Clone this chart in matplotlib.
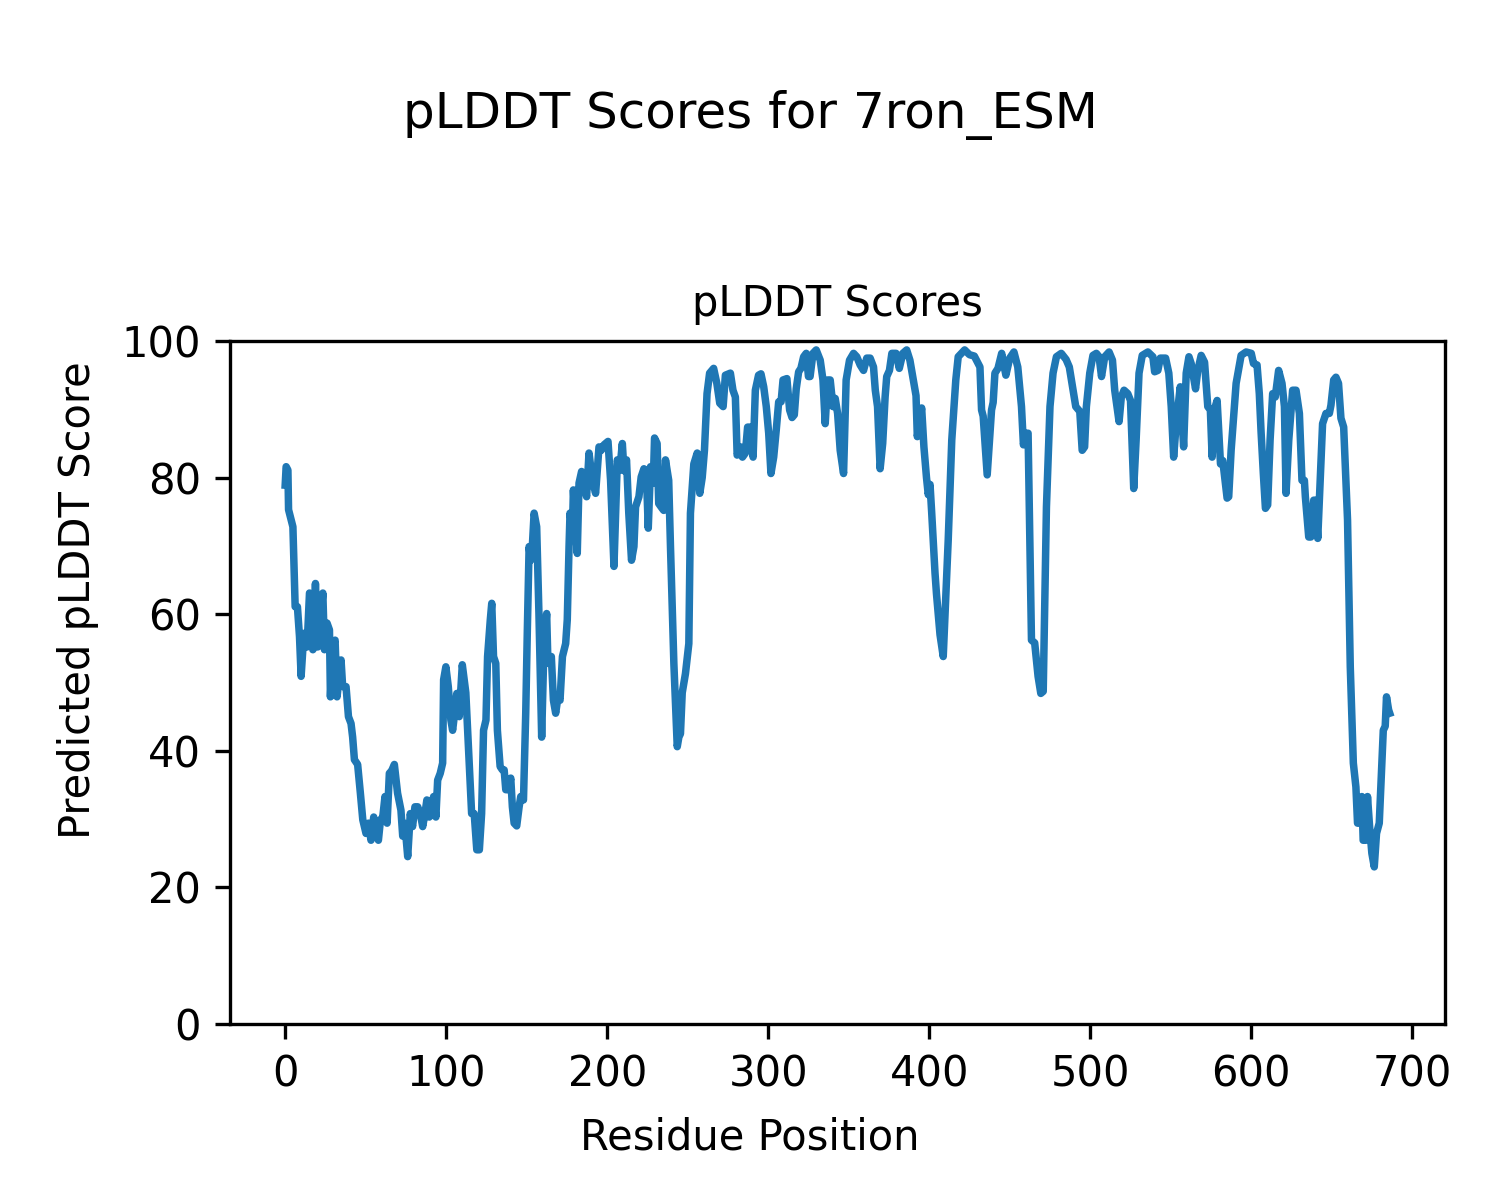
import matplotlib
matplotlib.use("Agg")
import matplotlib.pyplot as plt


# residue positions and pLDDT scores
residue = [
    0, 0.6, 1.7, 2.1, 4.8, 6.2, 7.6, 8.9, 9.9, 11.6, 13.6, 15.1, 16.1, 17.2, 18.8,
    20.2, 21.7, 23.4, 24.4, 26, 27.5, 28.1, 29.5, 31, 32.2, 34.7, 35.7, 37.8, 39.3,
    40.9, 41.9, 43, 45, 46.7, 48.2, 50.2, 51.7, 53.3, 55, 56.4, 57.9, 59.2, 60.6,
    62, 63.3, 64.7, 66.2, 67.8, 69.8, 71.9, 73, 74, 75, 76.1, 77.7, 79.1, 80.6,
    82.3, 83.9, 85.4, 86.8, 88, 89.5, 90.9, 92.2, 93.6, 94.7, 96.3, 97.8, 98.4,
    99.8, 101.3, 102.9, 104, 105, 106.6, 108.1, 110, 112.2, 114.3, 115.8, 117.4,
    119, 120.6, 122, 123.2, 124.7, 125.7, 127.4, 128.3, 129.4, 130.8, 131.8,
    133.5, 134.9, 136, 137, 138.7, 140.1, 141.1, 142.2, 143.8, 145.3, 146.3, 148,
    149.4, 150.4, 151.5, 152.5, 153.6, 154.6, 156.2, 157.6, 159.3, 160.7, 162.4,
    163.2, 165.3, 166.6, 168, 169.5, 170.7, 172.2, 174.2, 175.2, 176.3, 176.9,
    178.4, 179, 180.4, 181.4, 182.5, 184.1, 185.5, 187.2, 188.7, 190.8, 192.8,
    194.9, 196.3, 198, 200.5, 202.1, 204.2, 206.3, 207.8, 209.4, 210.4, 212,
    213.4, 215.1, 216.6, 217.6, 219.7, 221.1, 222.8, 224.4, 225.5, 226.9, 228.6,
    229.4, 231, 232, 233.5, 235.1, 236.2, 238.2, 239.3, 241.4, 243.5, 244.5,
    245.5, 246.6, 248.6, 250.7, 251.7, 253.8, 255.9, 257.5, 259, 260.4, 262,
    263.6, 266.1, 268.1, 269.9, 272, 273.4, 276.5, 278.1, 279.6, 280.7, 282.8,
    284, 285.8, 287.2, 288.9, 290.6, 292, 294, 295.5, 297.2, 298.8, 300.3, 301.7,
    303.4, 305, 306.5, 308, 309.2, 311.6, 313.3, 314.8, 316.2, 317.4, 318.9,
    320.3, 322, 323.6, 325, 326, 327.8, 329.8, 332.3, 334, 335.4, 336.9, 338.5,
    340.2, 341.6, 343.1, 344.7, 346.8, 348.4, 350.5, 353, 355, 357.1, 359.2,
    361.2, 363.3, 365.4, 366.5, 367.9, 369.5, 371.1, 372.6, 373.6, 375.3, 376.8,
    379.4, 381.4, 383.6, 386, 388, 390.1, 391.8, 392.6, 395.3, 396.7, 398.3,
    399.4, 400.5, 401.5, 403.6, 404.5, 406.7, 408.7, 411.8, 414, 416.5, 418, 422,
    425, 428, 431.5, 432.5, 433.5, 436, 438.7, 439.7, 440.8, 442.7, 445, 447.6,
    450, 452.6, 455, 457.3, 458.5, 460, 461.4, 463.5, 465.5, 467.6, 469.3, 470.8,
    472.8, 475, 476.9, 479, 482, 485, 487, 489, 491, 493.5, 495, 496.5, 497.6,
    499.7, 501.7, 503.8, 505.5, 507, 509, 511.7, 513.8, 515.2, 517.9, 519.3, 521,
    523.3, 525, 527, 528.5, 530.3, 532.3, 535.8, 538.9, 540, 542, 543.5, 546.8,
    548.8, 550.3, 551.8, 553.4, 555.9, 558, 559.6, 561.3, 562.7, 565.4, 566.8,
    568.9, 571, 573, 574.6, 575.7, 577, 578.8, 580.9, 582.3, 585, 586, 587.5,
    590.6, 593.7, 596.8, 600, 601.4, 603.6, 605, 606.1, 607.5, 608.8, 610.2,
    611.7, 613.3, 614.9, 617, 619.1, 620.6, 621.6, 623.3, 625.7, 627.8, 629.9,
    631.5, 633, 633.6, 635.7, 637, 638.8, 639.9, 641.3, 644.3, 646.4, 648.5,
    649.5, 651.2, 652.6, 654.2, 655.7, 657.4, 659.8, 661.5, 663.4, 665, 666,
    667.5, 668.7, 669.5, 671.2, 672.2, 673.5, 674.9, 676.4, 677.8, 679.5, 680.5,
    682, 683.2, 684, 685.3, 686,
]
plddt = [
    78.9, 81.6, 81.1, 75.3, 72.8, 61.1, 61.1, 56.7, 50.9, 57.2, 55.2, 63.1, 62.6,
    54.8, 64.5, 55.2, 58.7, 63.1, 54.8, 58.7, 57.7, 47.9, 55.2, 56.2, 47.9, 53.3,
    49.4, 49.4, 45, 44, 42, 38.7, 38, 33.8, 29.9, 27.9, 29.4, 26.9, 30.3, 27.9,
    26.9, 29.9, 30.3, 33.3, 29.4, 36.7, 37.1, 38, 33.8, 31.3, 27.5, 29.4, 27.5,
    24.5, 30.8, 28.9, 31.8, 31.8, 30.8, 28.9, 30.8, 32.8, 30.3, 31.8, 33.3, 30.3,
    35.7, 36.7, 38.2, 50.4, 52.3, 49.4, 44.5, 43, 45, 48.4, 45, 52.6, 48.5, 38.2,
    30.8, 30.8, 25.5, 25.5, 30.8, 43, 44.5, 53.8, 59.2, 61.6, 53.8, 52.8, 43, 37.7,
    37.2, 37.2, 34.3, 34.3, 36, 31.8, 29.4, 29, 31.8, 33.3, 32.8, 45.5, 57.7, 69.9,
    67.9, 70.4, 74.8, 72.8, 60.1, 42, 55.2, 60.1, 52.8, 53.8, 47.4, 45.5, 48, 47.4,
    53.8, 55.7, 59.2, 69.9, 74.8, 72.3, 78.2, 72.3, 68.9, 79.2, 80.9, 79.6, 77.2,
    83.6, 79.6, 77.7, 84.5, 84, 84.8, 85.3, 79.6, 67, 82.6, 81.1, 85, 81, 82.6,
    74.8, 67.9, 69.9, 75.7, 77.2, 80.1, 81.3, 80.1, 72.6, 81.6, 79.2, 85.8, 85,
    76.2, 75.7, 75.2, 82.6, 79.6, 69.9, 52.8, 40.6, 42, 42.5, 48.5, 51.3, 55.7,
    74.8, 82, 83.6, 77.7, 80, 84, 92.3, 95.3, 96, 93.8, 90.9, 90.4, 95, 95.3, 92.8,
    91.8, 83.3, 84.5, 83, 83.6, 87.4, 87.4, 83, 92.8, 95, 95.2, 93.3, 90.4, 86.5,
    80.6, 83, 87, 91.1, 91.1, 94.3, 94.5, 89.9, 88.8, 89.2, 93, 95.5, 96, 97.7,
    98.2, 94.8, 94.8, 98.2, 98.7, 97.2, 94.3, 87.9, 94.3, 94.3, 90.4, 91.6, 89.4,
    84, 80.6, 94.3, 97.2, 98.2, 97.7, 96.5, 95.7, 97.5, 97.5, 96.2, 92.8, 90.4,
    81.3, 85, 91.8, 94.8, 95.7, 98.2, 98.2, 96, 98.2, 98.7, 97.2, 94.3, 92, 86,
    90.2, 84.5, 80, 77.5, 79, 75, 66, 63, 57, 53.8, 70.9, 85.5, 94.3, 97.7, 98.7,
    98, 97.8, 96.2, 89.9, 89, 80.4, 89.9, 91, 95.3, 96, 98.2, 95, 97.5, 98.4, 96.2,
    90.4, 84.8, 86.5, 86.5, 56.2, 55.8, 50.9, 48.4, 48.7, 75.7, 90.4, 95.3, 97.7,
    98.2, 97.3, 96.2, 93.3, 90.4, 89.7, 84, 84.5, 90.4, 95.3, 97.9, 98.2, 97.7,
    94.8, 97.7, 98.4, 97.2, 92.8, 88.2, 91.8, 92.8, 92.3, 91.3, 78.4, 85.5, 95.3,
    97.9, 98.4, 97.7, 95.5, 95.7, 97.5, 97.5, 95.3, 90.4, 83, 87.9, 93.3, 84.5,
    95.3, 97.7, 96.7, 93, 95.7, 97.9, 96.9, 90.4, 89.9, 83, 89.9, 91.3, 82, 82.5,
    77, 77.2, 84, 93.8, 97.9, 98.4, 98.2, 96.7, 96.5, 92.3, 86.7, 80.6, 75.5, 76,
    85.5, 92.3, 91.8, 95.7, 93.8, 90.4, 77.7, 85.5, 92.8, 92.8, 89.4, 79.6, 79.6,
    77.2, 71.3, 71.3, 76.7, 76.7, 71.1, 87.9, 89.4, 89.4, 90.6, 94.3, 94.7, 93.8,
    88.7, 87.4, 73.8, 52.3, 38.2, 34.7, 29.4, 29.4, 33.3, 26.9, 26.9, 33.3, 28.9,
    25, 23, 27.9, 29.4, 34.7, 43, 43.6, 47.9, 46, 45.5,
]


fig = plt.figure(figsize=(5, 4), dpi=300)
ax = fig.add_axes([0.1533, 0.1467, 0.81, 0.5691])
ax.plot(residue, plddt, color="#1f77b4", linewidth=1.8)
ax.set_ylim(0, 100)
ax.set_title("pLDDT Scores", fontsize=10)
ax.tick_params(labelsize=10)
fig.suptitle("pLDDT Scores for 7ron_ESM", fontsize=12, y=0.925)
fig.supxlabel("Residue Position", fontsize=10, y=0.0517, va="center")
fig.supylabel("Predicted pLDDT Score", fontsize=10, x=0.052, ha="center")

fig.savefig("out.png", dpi=300)
